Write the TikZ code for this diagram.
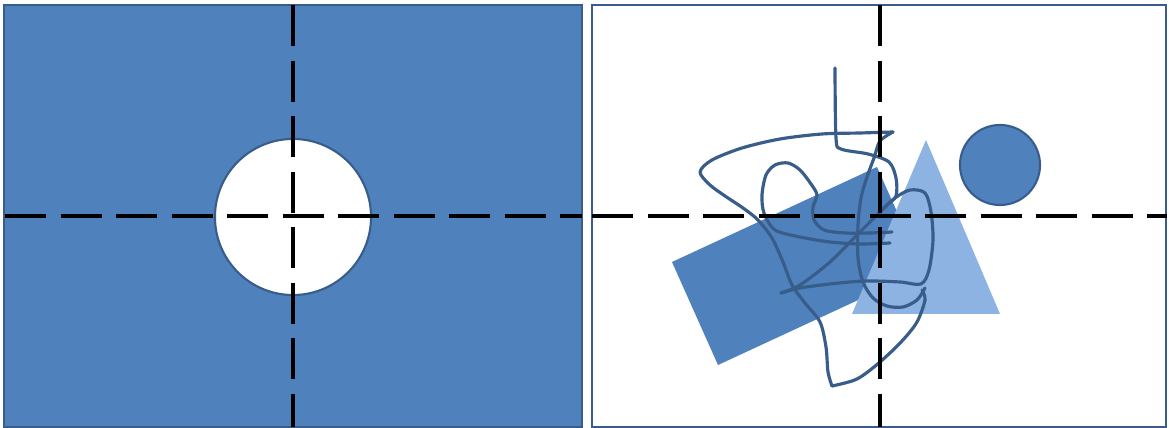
\documentclass[tikz,border=0pt]{standalone}
\usepackage{xcolor}
\usepackage{tikz}
\usetikzlibrary{calc}
\definecolor{panelblue}{HTML}{4F81BD}
\definecolor{edgeblue}{HTML}{385D8A}
\definecolor{lightblue}{HTML}{8DB3E2}

\begin{document}
\begin{tikzpicture}[
  x=0.01cm, y=-0.01cm,
  panel/.style={draw=edgeblue,line width=0.6pt},
  solid blue/.style={fill=panelblue,draw=edgeblue,line width=0.6pt},
  cross/.style={draw=black,line width=1.2pt,dash pattern=on 0.41cm off 0.145cm},
  scribble/.style={draw=edgeblue,line width=0.9pt,line join=round,line cap=round}
]
  \useasboundingbox (0,0) rectangle (1169,428);

  % Left panel: filled field with a hole
  \path[panel,fill=panelblue] (4,5) rectangle (582,427);
  \coordinate (hole) at (293,217);
  \path[draw=edgeblue,fill=white,line width=0.6pt] (hole) circle [radius=0.78cm];

  % Right panel: scattered shapes
  \path[panel,line width=0.75pt,fill=white] (592,5) rectangle (1166,427);
  \path[fill=panelblue] (672,262) -- (877,167) -- (923,270) -- (718,365) -- cycle;
  \path[fill=lightblue] (926,140) -- (1000,314) -- (852,314) -- cycle;
  \coordinate (ball) at (1000,165);
  \path[solid blue] (ball) circle [radius=0.40cm];

  % Freehand trace
  \draw[scribble] plot[smooth,tension=0.5] coordinates {(835,68) (836,138) (841,149) (868,154) (889,162) (896,178) (896,196) (886,206) (860,232) (830,262) (800,285) (781,293)};
  \draw[scribble] plot[smooth,tension=0.5] coordinates {(781,293) (800,288) (830,284) (865,281) (900,282) (921,284) (929,270) (933,240) (931,212) (925,193) (910,190) (895,198) (882,210)};
  \draw[scribble] plot[smooth,tension=0.5] coordinates {(893,132) (860,133) (822,134) (780,139) (742,148) (712,160) (700,172) (710,185) (725,196) (743,208) (758,220) (772,238) (783,262) (792,285) (805,303) (820,322) (826,347) (828,372) (832,386)};
  \draw[scribble] plot[smooth,tension=0.5] coordinates {(832,386) (857,379) (880,362) (902,341) (917,322) (925,300) (922,290)};
  \draw[scribble] plot[smooth,tension=0.5] coordinates {(893,132) (880,141) (874,158) (867,177) (861,198) (858,225) (858,258) (863,282) (873,298) (887,306) (903,307) (917,300) (925,288)};
  \draw[scribble] plot[smooth,tension=0.5] coordinates {(890,243) (860,244) (830,242) (800,237) (775,230) (764,213) (762,195) (766,175) (775,165) (788,163) (800,170) (811,184) (817,195) (813,207) (814,220) (824,230) (845,233) (870,233) (892,232)};

  % Dashed cross hairs
  \draw[cross] (5,216) -- (582,216);
  \draw[cross] (293,5) -- (293,427);
  \draw[cross] (592,216) -- (1167,216);
  \draw[cross] (880,5) -- (880,427);
\end{tikzpicture}
\end{document}
